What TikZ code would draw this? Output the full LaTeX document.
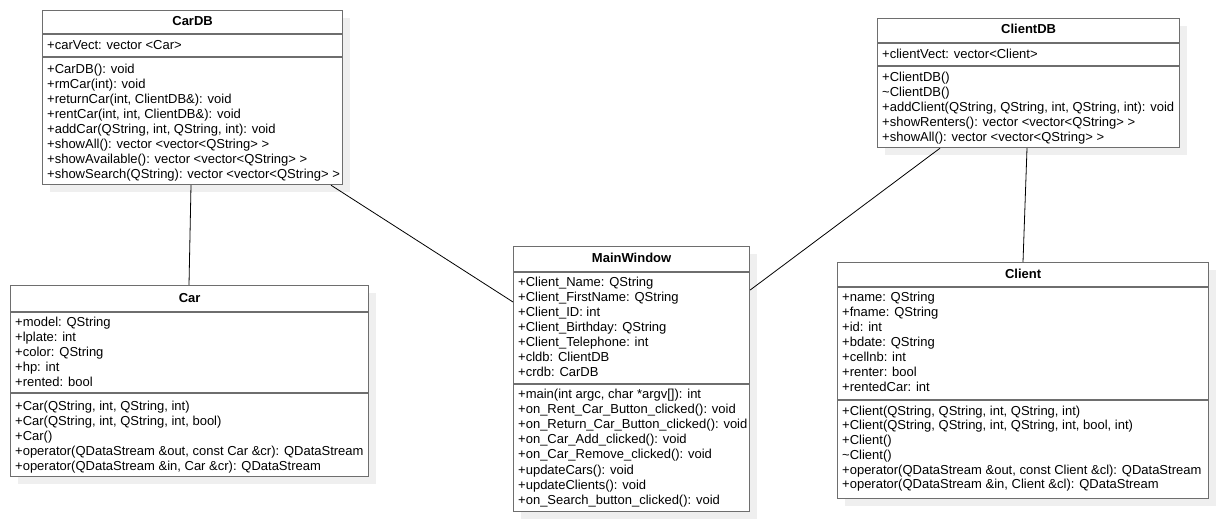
\documentclass[tikz,border=0pt]{standalone}
\usepackage{fontspec}
\setmainfont{Liberation Sans}
\usetikzlibrary{calc,shadows}
\definecolor{boxgray}{HTML}{6E6E6E}
\definecolor{shadowc}{HTML}{EFEFEF}
\begin{document}
\begin{tikzpicture}[x=1pt,y=-1pt,
  classbox/.style={draw=boxgray, line width=1.2pt, fill=white, inner sep=0pt, anchor=north west,
    drop shadow={shadow xshift=7pt, shadow yshift=-7pt, fill=shadowc, opacity=1}},
  sepline/.style={draw=boxgray, line width=1.2pt},
  title/.style={font=\fontsize{13}{15}\selectfont\bfseries, inner sep=0pt, text height=9.5pt, text depth=2.5pt},
  member/.style={font=\fontsize{13}{15}\selectfont, inner sep=0pt, anchor=west, text height=9.5pt, text depth=2.5pt},
  assoc/.style={draw=black, line width=0.8pt}]
\useasboundingbox (0,0) rectangle (1217,521);

% ---------- CarDB ----------
\node[classbox, minimum width=300pt, minimum height=174pt] (cardb) at (42,10) {};
\draw[sepline] ($(cardb.north west)+(0,24)$) -- ($(cardb.north east)+(0,24)$);
\draw[sepline] ($(cardb.north west)+(0,47)$) -- ($(cardb.north east)+(0,47)$);
\node[title] (cardb-t) at ($(cardb.north)+(0,12)$) {CarDB};
\node[member] (cardb-a0) at ($(cardb.north west)+(5,36.5)$) {+carVect: vector <Car>};
\foreach \t [count=\i from 0] in {{+CarDB(): void},{+rmCar(int): void},{+returnCar(int, ClientDB\&): void},{+rentCar(int, int, ClientDB\&): void},{+addCar(QString, int, QString, int): void},{+showAll(): vector <vector<QString> >},{+showAvailable(): vector <vector<QString> >},{+showSearch(QString): vector <vector<QString> >}}
  \node[member] (cardb-m\i) at ($(cardb.north west)+(5,60+15*\i)$) {\t};

% ---------- ClientDB ----------
\node[classbox, minimum width=302pt, minimum height=129pt] (clientdb) at (877,18) {};
\draw[sepline] ($(clientdb.north west)+(0,25)$) -- ($(clientdb.north east)+(0,25)$);
\draw[sepline] ($(clientdb.north west)+(0,48)$) -- ($(clientdb.north east)+(0,48)$);
\node[title] (clientdb-t) at ($(clientdb.north)+(0,12.5)$) {ClientDB};
\node[member] (clientdb-a0) at ($(clientdb.north west)+(5,37)$) {+clientVect: vector<Client>};
\foreach \t [count=\i from 0] in {{+ClientDB()},{\textasciitilde ClientDB()},{+addClient(QString, QString, int, QString, int): void},{+showRenters(): vector <vector<QString> >},{+showAll(): vector <vector<QString> >}}
  \node[member] (clientdb-m\i) at ($(clientdb.north west)+(5,60.3+15*\i)$) {\t};

% ---------- Car ----------
\node[classbox, minimum width=358pt, minimum height=191pt] (car) at (10,285) {};
\draw[sepline] ($(car.north west)+(0,27)$) -- ($(car.north east)+(0,27)$);
\draw[sepline] ($(car.north west)+(0,108)$) -- ($(car.north east)+(0,108)$);
\node[title] (car-t) at ($(car.north)+(0,13.5)$) {Car};
\foreach \t [count=\i from 0] in {{+model: QString},{+lplate: int},{+color: QString},{+hp: int},{+rented: bool}}
  \node[member] (car-a\i) at ($(car.north west)+(5,38+15*\i)$) {\t};
\foreach \t [count=\i from 0] in {{+Car(QString, int, QString, int)},{+Car(QString, int, QString, int, bool)},{+Car()},{+operator(QDataStream \&out, const Car \&cr): QDataStream},{+operator(QDataStream \&in, Car \&cr): QDataStream}}
  \node[member] (car-m\i) at ($(car.north west)+(5,121.5+15*\i)$) {\t};

% ---------- MainWindow ----------
\node[classbox, minimum width=236pt, minimum height=265pt] (mainwindow) at (513,246) {};
\draw[sepline] ($(mainwindow.north west)+(0,26)$) -- ($(mainwindow.north east)+(0,26)$);
\draw[sepline] ($(mainwindow.north west)+(0,138)$) -- ($(mainwindow.north east)+(0,138)$);
\node[title] (mainwindow-t) at ($(mainwindow.north)+(0,13)$) {MainWindow};
\foreach \t [count=\i from 0] in {{+Client\_Name: QString},{+Client\_FirstName: QString},{+Client\_ID: int},{+Client\_Birthday: QString},{+Client\_Telephone: int},{+cldb: ClientDB},{+crdb: CarDB}}
  \node[member] (mainwindow-a\i) at ($(mainwindow.north west)+(5,36.7+15*\i)$) {\t};
\foreach \t [count=\i from 0] in {{+main(int argc, char *argv[]): int},{+on\_Rent\_Car\_Button\_clicked(): void},{+on\_Return\_Car\_Button\_clicked(): void},{+on\_Car\_Add\_clicked(): void},{+on\_Car\_Remove\_clicked(): void},{+updateCars(): void},{+updateClients(): void},{+on\_Search\_button\_clicked(): void}}
  \node[member] (mainwindow-m\i) at ($(mainwindow.north west)+(5,149+15.1*\i)$) {\t};

% ---------- Client ----------
\node[classbox, minimum width=371pt, minimum height=236pt] (client) at (837,262) {};
\draw[sepline] ($(client.north west)+(0,25)$) -- ($(client.north east)+(0,25)$);
\draw[sepline] ($(client.north west)+(0,138)$) -- ($(client.north east)+(0,138)$);
\node[title] (client-t) at ($(client.north)+(0,12.5)$) {Client};
\foreach \t [count=\i from 0] in {{+name: QString},{+fname: QString},{+id: int},{+bdate: QString},{+cellnb: int},{+renter: bool},{+rentedCar: int}}
  \node[member] (client-a\i) at ($(client.north west)+(5,36.3+15*\i)$) {\t};
\foreach \t [count=\i from 0] in {{+Client(QString, QString, int, QString, int)},{+Client(QString, QString, int, QString, int, bool, int)},{+Client()},{\textasciitilde Client()},{+operator(QDataStream \&out, const Client \&cl): QDataStream},{+operator(QDataStream \&in, Client \&cl): QDataStream}}
  \node[member] (client-m\i) at ($(client.north west)+(5,149.7+14.7*\i)$) {\t};

% ---------- associations ----------
\draw[assoc] ($(cardb.south west)+(149,0)$) -- ($(car.north west)+(179,0)$);
\draw[assoc] ($(cardb.south west)+(289,0)$) -- ($(mainwindow.north west)+(0,56)$);
\draw[assoc] ($(clientdb.south west)+(63,0)$) -- ($(mainwindow.north east)+(0,44)$);
\draw[assoc] ($(clientdb.south west)+(150,0)$) -- ($(client.north west)+(186,0)$);
\end{tikzpicture}
\end{document}
